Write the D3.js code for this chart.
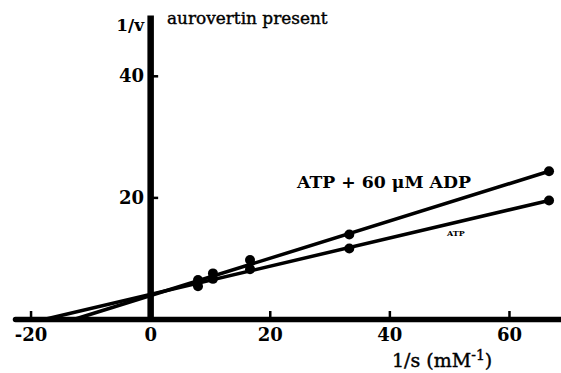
<!DOCTYPE html>
<html>
<head>
<meta charset="utf-8">
<script src="https://cdn.jsdelivr.net/npm/d3@7"></script>
<style>
  html, body { margin: 0; padding: 0; background: #fff; }
  svg { display: block; }
</style>
</head>
<body>
<svg id="chart" width="561" height="373"></svg>
<script>
// 1/s values (mM^-1) shared by both series
const invS = [8, 10.5, 16.7, 33.3, 66.7];
// 1/v values
const atpAdp = [6.4, 7.5, 9.7, 13.9, 24.3];
const atp = [5.4, 6.6, 8.2, 11.6, 19.5];
// fitted lines, from x-intercept to last point
const fitAtpAdp = [[-12.5, 0], [66.7, 24.3]];
const fitAtp = [[-17.4, 0], [66.7, 19.5]];
// ticks
const xTicks = [-20, 0, 20, 40, 60];
const yTicks = [20, 40];

const serif = "'DejaVu Serif', 'Liberation Serif', 'Times New Roman', serif";

const svg = d3.select("#chart");

const x = d3.scaleLinear().domain([-22.6, 68.7]).range([15, 561]);
const y = d3.scaleLinear().domain([0, 50]).range([319, 15]);

const line = d3.line().x(d => x(d[0])).y(d => y(d[1]));

// shrink/grow a text's font so it spans the given width
function fitWidth(sel, w) {
  const fs = +sel.attr("font-size");
  const bw = sel.node().getBBox().width;
  sel.attr("font-size", (fs * w / bw).toFixed(2));
}

// fitted lines
svg.append("g")
  .selectAll("path")
  .data([fitAtpAdp, fitAtp])
  .join("path")
  .attr("d", line)
  .attr("fill", "none")
  .attr("stroke", "#000")
  .attr("stroke-width", 3.5)
  .attr("stroke-linecap", "round");

// data points
const series = [atpAdp, atp];
svg.append("g")
  .selectAll("g")
  .data(series)
  .join("g")
  .selectAll("circle")
  .data(vals => vals.map((v, i) => [invS[i], v]))
  .join("circle")
  .attr("cx", d => x(d[0]))
  .attr("cy", d => y(d[1]))
  .attr("r", 5)
  .attr("fill", "#000");

// x axis
const xAxis = svg.append("g")
  .attr("transform", `translate(0,${y(0)})`)
  .call(d3.axisBottom(x)
    .tickValues(xTicks)
    .tickFormat(d3.format("d"))
    .tickSizeInner(-8)
    .tickSizeOuter(0)
    .tickPadding(9));
xAxis.attr("font-family", serif);
xAxis.select(".domain")
  .attr("stroke-width", 5.5)
  .attr("stroke-linecap", "round");
xAxis.selectAll(".tick line").attr("stroke-width", 2.5)
  .filter(d => d === 0).remove();
xAxis.selectAll(".tick text")
  .attr("font-size", 18)
  .attr("font-weight", "bold")
  .text(d => d < 0 ? "-" + Math.abs(d) : d);

// y axis
const yAxis = svg.append("g")
  .attr("transform", `translate(${x(0)},0)`)
  .call(d3.axisLeft(y)
    .tickValues(yTicks)
    .tickSizeInner(-8)
    .tickSizeOuter(0)
    .tickPadding(6));
yAxis.attr("font-family", serif);
yAxis.select(".domain")
  .attr("stroke-width", 6.5);
yAxis.selectAll(".tick line").attr("stroke-width", 2.5);
yAxis.selectAll(".tick text")
  .attr("font-size", 18)
  .attr("font-weight", "bold");

// axis titles and annotations
const ann = svg.append("g").attr("font-family", serif);

ann.append("text")
  .attr("x", x(0) - 6)
  .attr("y", 31)
  .attr("text-anchor", "end")
  .attr("font-size", 17)
  .attr("font-weight", "bold")
  .text("1/v");

ann.append("text")
  .attr("x", 167)
  .attr("y", 24)
  .attr("font-size", 19)
  .attr("stroke", "#000")
  .attr("stroke-width", 0.4)
  .text("aurovertin present")
  .call(fitWidth, 161);

const xt = ann.append("text")
  .attr("x", 392)
  .attr("y", 367)
  .attr("font-size", 19)
  .attr("stroke", "#000")
  .attr("stroke-width", 0.4);
xt.append("tspan").text("1/s (mM");
xt.append("tspan").attr("font-size", 14).attr("dy", -7).text("-1");
xt.append("tspan").attr("dy", 7).text(")");

ann.append("text")
  .attr("x", 297)
  .attr("y", 188)
  .attr("font-size", 19)
  .attr("font-weight", "bold")
  .text("ATP + 60 \u03BCM ADP")
  .call(fitWidth, 175);

ann.append("text")
  .attr("x", 447)
  .attr("y", 236)
  .attr("font-size", 8)
  .attr("font-weight", "bold")
  .text("ATP");
</script>
</body>
</html>
